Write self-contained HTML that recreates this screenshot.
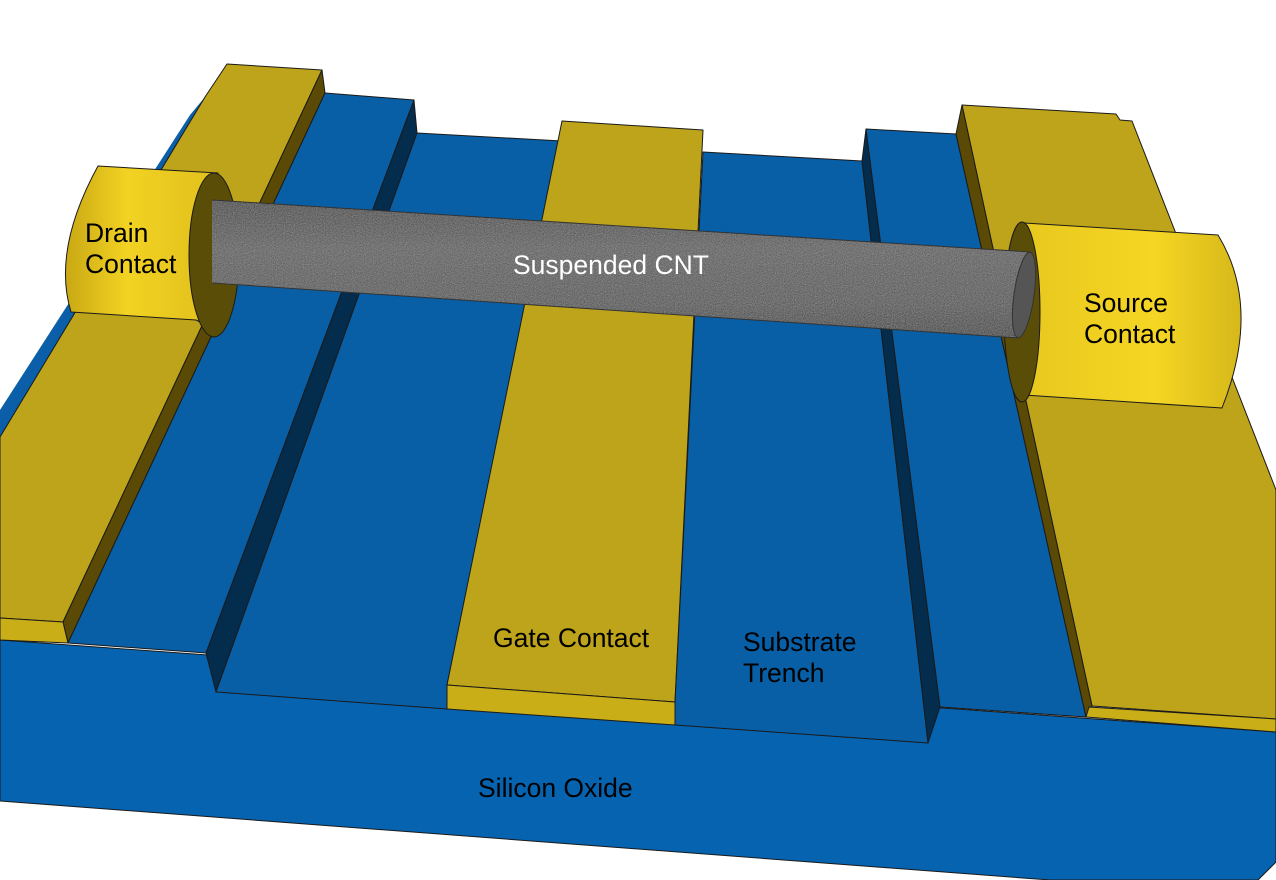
<!DOCTYPE html>
<html><head><meta charset="utf-8"><style>
html,body{margin:0;padding:0;background:#fff;}
svg{display:block}
text{font-family:"Liberation Sans",Arial,sans-serif;font-size:26.5px;}
</style></head><body>
<svg width="1276" height="880" viewBox="0 0 1276 880" xmlns="http://www.w3.org/2000/svg">
<defs>
<linearGradient id="cnt" x1="0" y1="0" x2="0" y2="1">
<stop offset="0" stop-color="#333"/><stop offset="0.35" stop-color="#555"/><stop offset="0.75" stop-color="#4a4a4a"/><stop offset="1" stop-color="#2c2c2c"/>
</linearGradient>
<linearGradient id="cylL" x1="0" y1="0" x2="1" y2="0">
<stop offset="0" stop-color="#c9a814"/><stop offset="0.4" stop-color="#f2d222"/><stop offset="1" stop-color="#e0c01c"/>
</linearGradient>
<linearGradient id="cylR" x1="0" y1="0" x2="1" y2="0">
<stop offset="0" stop-color="#e8c81e"/><stop offset="0.6" stop-color="#f5d624"/><stop offset="1" stop-color="#d6b81a"/>
</linearGradient>
<filter id="noise" x="0" y="0" width="100%" height="100%">
<feTurbulence type="fractalNoise" baseFrequency="0.9" numOctaves="2" result="n"/>
<feColorMatrix type="saturate" values="0" in="n" result="g"/>
<feComponentTransfer in="g" result="g2"><feFuncA type="linear" slope="0.45"/></feComponentTransfer>
<feComposite in="g2" in2="SourceGraphic" operator="in" result="c"/>
<feMerge><feMergeNode in="SourceGraphic"/><feMergeNode in="c"/></feMerge>
</filter>
</defs>
<g stroke="#1a1a1a" stroke-width="1" stroke-linejoin="round">
<polygon points="0,640 1276,732 1276,862 1258,880 1050,880 0,801" fill="#0663b0"/>
<polygon points="0,410 190,115 205,97 0,440" fill="#0a5fa8" stroke="none"/>
<polygon points="227,64 322,70 63,622 0,618 0,437 205,97" fill="#bea41a"/>
<polygon points="322,70 325,93 68,643 63,622" fill="#5a4a05"/>
<polygon points="0,618 63,622 68,643 0,640" fill="#c9ae18"/>
<polygon points="325,93 414,100 206,653 68,643" fill="#085fa6"/>
<polygon points="414,100 417,133 216,692 206,653" fill="#032c4d"/>
<polygon points="417,133 562,141 447,685 447,709 216,692" fill="#085fa6"/>
<polygon points="562,121 703,130 675,702 447,685" fill="#bea41a"/>
<polygon points="447,685 675,702 675,725 447,709" fill="#c9ae18"/>
<polygon points="703,152 862,161 928,743 675,725 675,702" fill="#085fa6"/>
<polygon points="866,129 862,161 928,743 940,707" fill="#032c4d"/>
<polygon points="866,129 956,134 1086,717 940,707" fill="#085fa6"/>
<polygon points="962,105 1116,114 1120,120 1132,121 1276,490 1276,719 1092,706" fill="#bea41a"/>
<polygon points="962,105 956,134 1086,717 1092,706" fill="#5a4a05"/>
<polygon points="1089,707 1276,719 1276,732 1086,717" fill="#c9ae18"/>
<path d="M98,166 L218,173 L200,322 L196,320 L71,312 Q52,250 98,166 Z" fill="url(#cylL)"/>
<ellipse cx="214" cy="255" rx="25" ry="82" fill="#5a4d08"/>
<path d="M1024,223 L1218,235 Q1262,307 1222,408 L1024,395 Z" fill="url(#cylR)"/>
<ellipse cx="1022" cy="312" rx="18" ry="90" fill="#5a4d08"/>
<g filter="url(#noise)">
<path d="M212,200 L1030,252 L1018,338 L212,283 Z" fill="url(#cnt)" stroke="none"/>
</g>
<path d="M212,200 L1030,252 M1018,338 L212,283" fill="none" stroke="#333"/>
<ellipse cx="1024" cy="295" rx="10" ry="43" fill="#555" stroke="#333" transform="rotate(8 1024 295)"/>
</g>
<text x="85" y="242">Drain</text>
<text x="85" y="273">Contact</text>
<text x="513" y="274" fill="#fff">Suspended CNT</text>
<text x="1084" y="312">Source</text>
<text x="1084" y="343">Contact</text>
<text x="493" y="647">Gate Contact</text>
<text x="743" y="651">Substrate</text>
<text x="743" y="682">Trench</text>
<text x="478" y="797">Silicon Oxide</text>
</svg>
</body></html>
